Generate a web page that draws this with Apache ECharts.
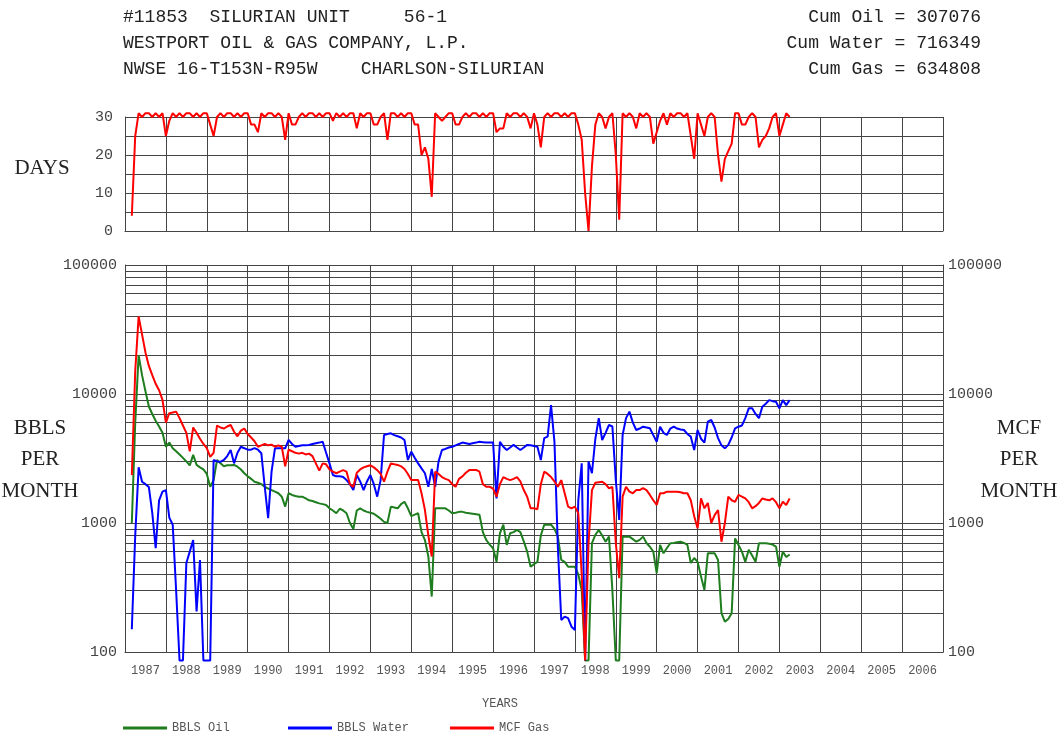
<!DOCTYPE html>
<html>
<head>
<meta charset="utf-8">
<script src="https://cdn.jsdelivr.net/npm/echarts@6/dist/echarts.min.js"></script>
<style>
html,body{margin:0;padding:0;background:#fff;}
#chart{width:1058px;height:736px;}
</style>
</head>
<body>
<div id="chart"></div>
<script>
// ---- Data (monthly, Mar 1987 .. Apr 2003) ----
const startYear = 1987;
const startMonth = 3;
const years = ['1987','1988','1989','1990','1991','1992','1993','1994','1995','1996','1997','1998','1999','2000','2001','2002','2003','2004','2005','2006'];

const daysOn = [
  4,25,31,30,31,31,30,31,30,31,
  25,29,31,30,31,30,31,31,30,31,30,31,
  31,28,25,30,31,30,31,31,30,31,30,31,
  31,28,28,26,31,30,31,31,30,31,30,24,
  31,28,28,30,31,30,31,31,30,31,30,31,
  31,29,31,30,31,30,31,31,27,31,30,31,
  31,28,28,30,31,24,31,31,30,31,30,31,
  31,28,28,20,22,19,9,31,30,29,30,31,
  31,28,28,30,31,30,31,31,30,31,30,31,
  31,26,27,27,31,30,31,31,30,31,30,27,
  31,28,22,30,31,30,31,31,30,31,30,31,
  31,28,24,10,0,17,28,31,30,27,30,31,
  20,3,31,30,31,30,27,31,30,31,30,23,
  26,29,31,28,31,30,31,31,30,31,25,19,
  31,28,25,30,31,30,20,13,19,21,23,31,
  31,28,28,30,31,30,22,24,25,27,30,31,
  25,28,31,30
];

const bblsOil = [
  1000,6000,20000,14000,10500,8000,7000,6200,5600,5000,
  3900,4200,3800,3600,3400,3200,3000,2800,3370,2820,2700,2600,
  2400,1910,2150,3080,2900,2750,2800,2800,2820,2730,2600,2430,
  2300,2200,2090,2050,2000,1910,1850,1800,1750,1700,1600,1340,
  1700,1650,1620,1600,1600,1550,1500,1480,1450,1420,1400,1380,
  1300,1250,1190,1290,1250,1190,1000,900,1250,1300,1250,1220,
  1200,1180,1130,1080,1020,1000,1340,1320,1300,1400,1460,1300,
  1130,1160,1190,850,738,550,269,1300,1300,1300,1300,1250,
  1190,1200,1220,1220,1200,1190,1180,1170,1160,850,738,680,
  637,500,832,970,676,832,850,883,850,720,600,458,
  480,500,800,970,970,970,900,784,517,500,458,458,
  458,400,300,86,86,697,810,883,800,716,784,300,
  86,86,784,784,784,750,716,740,784,700,655,600,
  408,676,582,640,697,700,710,716,700,676,490,535,
  500,384,303,582,582,582,517,200,172,180,200,760,
  676,600,500,620,560,500,697,697,697,690,680,655,
  458,600,545,570
];

const bblsWater = [
  150,800,2700,2090,2000,1900,1200,637,1500,1750,
  1800,1100,970,300,86,86,490,600,738,206,517,86,
  86,86,3080,3000,2980,3080,3300,3680,2900,3500,3900,3800,
  3700,3700,3800,3700,3470,1910,1090,2500,3790,3790,3790,3790,
  4400,4100,3900,3950,4000,4000,4030,4100,4150,4200,4260,3500,
  2900,2355,2300,2300,2270,2150,2000,1800,2355,2100,1800,2100,
  2355,2000,1600,2150,4810,4900,4960,4800,4700,4600,4400,3080,
  3570,3200,2900,2650,2430,1910,2620,1910,3000,3680,3750,3850,
  3900,4000,4100,4200,4150,4100,4150,4200,4260,4230,4200,4200,
  4200,1550,4260,3900,3680,3850,4030,3850,3680,3850,4030,4000,
  3950,3900,3080,4550,4670,8200,4260,655,177,188,183,157,
  148,1500,2900,86,3000,2430,4500,6490,4400,5000,5750,5600,
  2150,1055,4810,6500,7300,6000,5260,5400,5580,5500,5420,4800,
  4260,5580,5000,4810,5400,5580,5400,5300,5260,4900,4670,3680,
  5260,4500,4200,6100,6290,5500,4550,4000,3790,4030,4600,5420,
  5580,5700,6500,7740,7740,7000,6490,7980,8400,8970,8800,8700,
  7740,8970,8200,8970
];

const mcfGas = [
  2350,15000,40000,29000,21000,16500,14000,12000,10700,9000,
  6000,7100,7200,7300,6500,5700,5000,3600,5500,5000,4500,4100,
  3800,3250,3500,5700,5500,5400,5600,5750,5100,4700,5200,5400,
  4900,4600,4300,3900,4000,4100,4000,4050,3900,4000,3900,2750,
  3700,3600,3500,3450,3500,3400,3450,3300,2900,2550,2900,2850,
  2600,2500,2430,2500,2570,2500,2000,1900,2450,2600,2700,2750,
  2800,2700,2570,2400,2090,2500,2900,2850,2820,2750,2620,2400,
  2150,2150,2150,1700,1260,800,550,2500,2400,2270,2200,2150,
  2000,1910,2200,2300,2450,2570,2570,2580,2500,2000,1910,1910,
  1850,1600,2000,2270,2200,2150,2200,2270,2100,1800,1600,1300,
  1300,1280,2000,2500,2400,2270,2100,1910,2150,1700,1340,1300,
  1340,1190,400,86,700,1800,2050,2070,2090,2000,1860,1900,
  700,373,1600,1910,1750,1700,1800,1800,1860,1800,1650,1500,
  1380,1700,1700,1750,1750,1750,1750,1730,1700,1700,1500,1130,
  910,1550,1300,1430,1000,1150,1260,716,1000,1600,1500,1460,
  1650,1600,1550,1450,1300,1350,1430,1550,1520,1500,1550,1450,
  1300,1460,1380,1550
];

const logMinorLines = [200,300,400,500,600,700,800,900,2000,3000,4000,5000,6000,7000,8000,9000,20000,30000,40000,50000,60000,70000,80000,90000];

const headerLeft = ['#11853  SILURIAN UNIT     56-1', 'WESTPORT OIL & GAS COMPANY, L.P.', 'NWSE 16-T153N-R95W    CHARLSON-SILURIAN'];
const headerRight = ['Cum Oil = 307076', 'Cum Water = 716349', 'Cum Gas = 634808'];
const legendNames = ['BBLS Oil', 'BBLS Water', 'MCF Gas'];

// ---- Build ----
const times = daysOn.map((_, i) => startYear + (startMonth - 1 + i) / 12);
const pairs = arr => arr.map((v, i) => [times[i], v]);

const gridColor = '#444';
const monoFont = '"Liberation Mono", "DejaVu Sans Mono", monospace';
const serifFont = '"Liberation Serif", "DejaVu Serif", serif';

function txt(text, x, y, font, align, fill) {
  return {
    type: 'text', x: x, y: y, silent: true,
    style: { text: text, font: font, fill: fill || '#222',
      align: align, verticalAlign: 'middle',
      textAlign: align, textVerticalAlign: 'middle' }
  };
}

const graphics = [];
headerLeft.forEach((t, i) => graphics.push(txt(t, 123, 17 + i * 26, '18px ' + monoFont, 'left', '#222')));
headerRight.forEach((t, i) => graphics.push(txt(t, 981, 17 + i * 26, '18px ' + monoFont, 'right', '#222')));
graphics.push(txt('DAYS', 42, 168, '21px ' + serifFont, 'center', '#222'));
['BBLS', 'PER', 'MONTH'].forEach((t, i) => graphics.push(txt(t, 40, 428 + i * 31.5, '21px ' + serifFont, 'center', '#222')));
['MCF', 'PER', 'MONTH'].forEach((t, i) => graphics.push(txt(t, 1019, 428 + i * 31.5, '21px ' + serifFont, 'center', '#222')));
graphics.push(txt('YEARS', 500, 704, '12px ' + monoFont, 'center', '#555'));

const valueX = (gi) => ({
  gridIndex: gi, type: 'value', min: 1987, max: 2007, interval: 1,
  axisLabel: { show: false }, axisTick: { show: false },
  axisLine: { show: true, lineStyle: { color: gridColor, width: 1 } },
  splitLine: { show: true, lineStyle: { color: gridColor, width: 1 } }
});

const logLabel = (v) => String(Math.round(v));

const legendLefts = [118, 283, 445];
const legends = legendNames.map((n, i) => ({
  data: [n], left: legendLefts[i], top: 717,
  icon: 'rect', itemWidth: 44, itemHeight: 3,
  selectedMode: false,
  textStyle: { fontFamily: monoFont, fontSize: 12, color: '#555' }
}));

const option = {
  animation: false,
  backgroundColor: '#fff',
  graphic: graphics,
  legend: legends,
  grid: [
    { left: 125, right: 115, top: 117, height: 114, outerBoundsMode: 'none' },
    { left: 125, right: 115, top: 265, height: 387, outerBoundsMode: 'none' }
  ],
  xAxis: [
    valueX(0),
    valueX(1),
    {
      gridIndex: 1, type: 'category', data: years, boundaryGap: true, position: 'bottom',
      axisLine: { show: false }, axisTick: { show: false }, splitLine: { show: false },
      axisLabel: { margin: 13, fontFamily: monoFont, fontSize: 12, color: '#555', interval: 0 }
    }
  ],
  yAxis: [
    {
      gridIndex: 0, type: 'value', min: 0, max: 30, interval: 5,
      axisLine: { show: true, lineStyle: { color: gridColor } }, axisTick: { show: false },
      splitLine: { show: true, lineStyle: { color: gridColor, width: 1 } },
      axisLabel: { margin: 12, fontFamily: monoFont, fontSize: 15, color: '#444',
        formatter: v => (v % 10 === 0 ? String(v) : '') }
    },
    {
      gridIndex: 1, type: 'log', logBase: 10, min: 100, max: 100000,
      axisLine: { show: true, lineStyle: { color: gridColor } }, axisTick: { show: false },
      splitLine: { show: true, lineStyle: { color: gridColor, width: 1 } },
      axisLabel: { margin: 8, fontFamily: monoFont, fontSize: 15, color: '#444', formatter: logLabel }
    },
    {
      gridIndex: 1, type: 'log', logBase: 10, min: 100, max: 100000, position: 'right',
      axisLine: { show: true, lineStyle: { color: gridColor } }, axisTick: { show: false },
      splitLine: { show: false },
      axisLabel: { margin: 5, fontFamily: monoFont, fontSize: 15, color: '#444', formatter: logLabel }
    }
  ],
  series: [
    {
      name: 'Days', type: 'line', xAxisIndex: 0, yAxisIndex: 0,
      data: pairs(daysOn), showSymbol: false, clip: false,
      lineStyle: { color: '#ff0000', width: 2 }, itemStyle: { color: '#ff0000' }
    },
    {
      name: 'BBLS Oil', type: 'line', xAxisIndex: 1, yAxisIndex: 1,
      data: pairs(bblsOil), showSymbol: false, clip: false, z: 3,
      lineStyle: { color: '#1e7d1e', width: 2 }, itemStyle: { color: '#1e7d1e' },
      markLine: {
        silent: true, symbol: ['none', 'none'], z: 1, animation: false,
        label: { show: false },
        lineStyle: { color: gridColor, width: 1, type: 'solid' },
        emphasis: { disabled: true },
        data: logMinorLines.map(v => ({ yAxis: v }))
      }
    },
    {
      name: 'BBLS Water', type: 'line', xAxisIndex: 1, yAxisIndex: 1,
      data: pairs(bblsWater), showSymbol: false, clip: false, z: 3,
      lineStyle: { color: '#0000ff', width: 2 }, itemStyle: { color: '#0000ff' }
    },
    {
      name: 'MCF Gas', type: 'line', xAxisIndex: 1, yAxisIndex: 1,
      data: pairs(mcfGas), showSymbol: false, clip: false, z: 3,
      lineStyle: { color: '#ff0000', width: 2 }, itemStyle: { color: '#ff0000' }
    }
  ]
};

const chart = echarts.init(document.getElementById('chart'), null, { renderer: 'canvas' });
chart.setOption(option);
</script>
</body>
</html>
